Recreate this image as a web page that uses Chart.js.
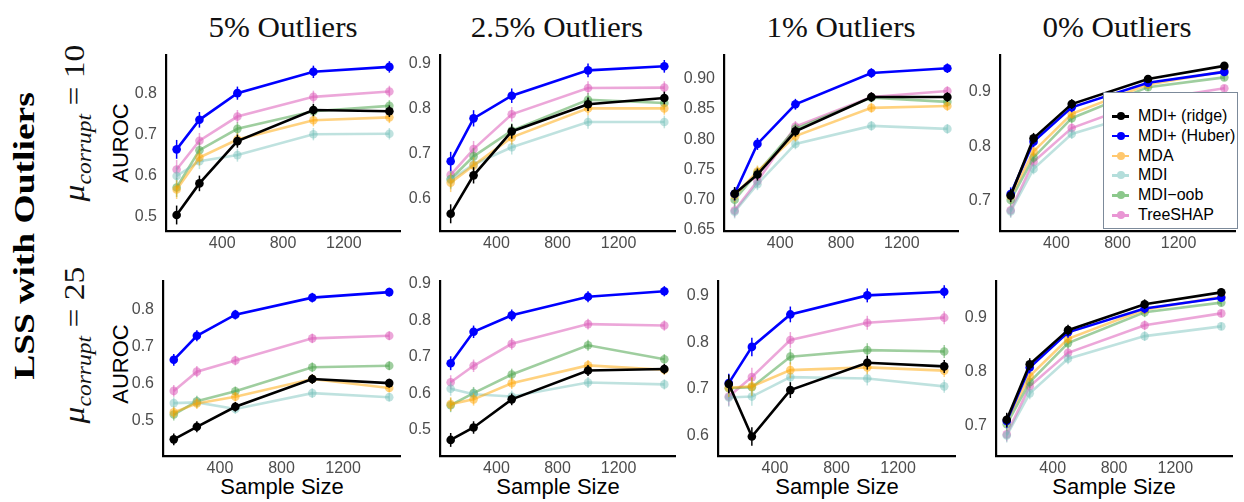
<!DOCTYPE html>
<html>
<head>
<meta charset="utf-8">
<script src="https://cdn.jsdelivr.net/npm/chart.js@4.4.1/dist/chart.umd.min.js"></script>
<style>
	body { margin: 0; background: #fff; }
	#fig { position: relative; width: 1244px; height: 502px; overflow: hidden; font-family: "Liberation Sans", Arial, sans-serif; }
	.box { position: absolute; }
	.txt { position: absolute; white-space: nowrap; transform: translate(-50%, -50%); }
	.rot { position: absolute; white-space: nowrap; transform: translate(-50%, -50%) rotate(-90deg); }
	.title { font-family: "Liberation Serif", serif; font-size: 29px; color: #111; transform: translate(-50%, -50%) scaleX(1.07); }
	.axt { font-size: 22px; color: #000; }
	.mu { font-family: "Liberation Serif", serif; font-size: 30px; color: #111; transform: translate(-50%, -50%) rotate(-90deg) scaleX(1.12); }
	.mu i sub { font-size: 21px; }
	#legend { position: absolute; left: 1103px; top: 92px; width: 133px; height: 135px; border: 1px solid #7c8a9a; background: #fff; }
	.item { position: absolute; left: 8px; height: 20px; display: flex; align-items: center; font-size: 16px; color: #000; }
	.key { position: relative; width: 17px; height: 20px; margin-right: 9px; }
	.key .ln { position: absolute; left: 0; right: 0; top: 9px; height: 2.5px; }
	.key .dt { position: absolute; left: 4.5px; top: 6px; width: 8px; height: 8px; border-radius: 50%; }
</style>
</head>
<body>
<div id="fig">
	<div class="txt title" style="left:283px; top:27px;">5% Outliers</div>
	<div class="txt title" style="left:557px; top:27px;">2.5% Outliers</div>
	<div class="txt title" style="left:841px; top:27px;">1% Outliers</div>
	<div class="txt title" style="left:1117px; top:27px;">0% Outliers</div>

	<div class="rot" style="left:24px; top:236px; font-family:'Liberation Serif',serif; font-weight:bold; font-size:30px; transform:translate(-50%,-50%) rotate(-90deg) scaleX(1.25);">LSS with Outliers</div>
	<div class="rot mu" style="left:77px; top:123px;"><i>μ<sub>corrupt</sub></i> = 10</div>
	<div class="rot mu" style="left:77px; top:345px;"><i>μ<sub>corrupt</sub></i> = 25</div>

	<div class="rot axt" style="left:121px; top:143px;">AUROC</div>
	<div class="rot axt" style="left:121px; top:364px;">AUROC</div>

	<div class="txt axt" style="left:282px; top:487px;">Sample Size</div>
	<div class="txt axt" style="left:558px; top:487px;">Sample Size</div>
	<div class="txt axt" style="left:837px; top:487px;">Sample Size</div>
	<div class="txt axt" style="left:1114px; top:487px;">Sample Size</div>
</div>

<script>
// sample sizes on the x axis
const sampleSizes = [100, 250, 500, 1000, 1500];
const xTicks = [400, 800, 1200];

const methods = ['MDI+ (ridge)', 'MDI+ (Huber)', 'MDA', 'MDI', 'MDI−oob', 'TreeSHAP'];
const lineColors = ['#000000', '#0000ff', 'rgba(255,165,0,0.5)', 'rgba(113,190,183,0.45)', 'rgba(80,165,80,0.55)', 'rgba(220,95,185,0.55)'];
const legendColors = ['#000000', '#0000ff', '#ffc86e', '#b4dedb', '#8cc88c', '#e996d4'];

// AUROC per method (order as in methods), mu_corrupt = 10
const auroc5_mu10 = [
	[0.505, 0.582, 0.685, 0.761, 0.758],
	[0.665, 0.737, 0.802, 0.854, 0.866],
	[0.567, 0.645, 0.689, 0.736, 0.743],
	[0.600, 0.636, 0.651, 0.702, 0.703],
	[0.572, 0.663, 0.715, 0.758, 0.771],
	[0.616, 0.686, 0.745, 0.793, 0.806]
];
const auroc25_mu10 = [
	[0.567, 0.652, 0.749, 0.809, 0.823],
	[0.683, 0.778, 0.828, 0.884, 0.893],
	[0.636, 0.674, 0.736, 0.800, 0.800],
	[0.642, 0.676, 0.714, 0.770, 0.770],
	[0.644, 0.694, 0.751, 0.819, 0.812],
	[0.653, 0.710, 0.787, 0.845, 0.846]
];
const auroc1_mu10 = [
	[0.709, 0.741, 0.813, 0.870, 0.870],
	[0.709, 0.792, 0.858, 0.910, 0.918],
	[0.706, 0.746, 0.805, 0.852, 0.855],
	[0.679, 0.725, 0.792, 0.822, 0.817],
	[0.699, 0.744, 0.817, 0.869, 0.862],
	[0.681, 0.730, 0.821, 0.870, 0.880]
];
const auroc0_mu10 = [
	[0.710, 0.815, 0.878, 0.924, 0.948],
	[0.713, 0.809, 0.872, 0.917, 0.937],
	[0.709, 0.791, 0.860, 0.914, 0.938],
	[0.681, 0.759, 0.823, 0.865, 0.883],
	[0.702, 0.780, 0.852, 0.909, 0.927],
	[0.683, 0.772, 0.834, 0.885, 0.907]
];
// mu_corrupt = 25
const auroc5_mu25 = [
	[0.450, 0.484, 0.538, 0.613, 0.602],
	[0.665, 0.730, 0.787, 0.833, 0.848],
	[0.523, 0.547, 0.565, 0.613, 0.589],
	[0.548, 0.550, 0.532, 0.575, 0.564],
	[0.517, 0.553, 0.580, 0.645, 0.649],
	[0.581, 0.633, 0.663, 0.723, 0.730]
];
const auroc25_mu25 = [
	[0.473, 0.507, 0.584, 0.663, 0.667],
	[0.683, 0.769, 0.814, 0.865, 0.880],
	[0.571, 0.584, 0.628, 0.677, 0.665],
	[0.613, 0.598, 0.592, 0.630, 0.625],
	[0.568, 0.601, 0.652, 0.732, 0.694],
	[0.631, 0.676, 0.736, 0.790, 0.786]
];
const auroc1_mu25 = [
	[0.710, 0.597, 0.697, 0.756, 0.748],
	[0.712, 0.790, 0.860, 0.901, 0.909],
	[0.702, 0.705, 0.740, 0.746, 0.739],
	[0.681, 0.683, 0.725, 0.722, 0.705],
	[0.701, 0.703, 0.769, 0.783, 0.780],
	[0.683, 0.725, 0.805, 0.842, 0.853]
];
const auroc0_mu25 = [
	[0.710, 0.813, 0.876, 0.924, 0.946],
	[0.708, 0.807, 0.872, 0.916, 0.936],
	[0.709, 0.791, 0.860, 0.914, 0.938],
	[0.681, 0.759, 0.823, 0.865, 0.883],
	[0.702, 0.780, 0.852, 0.909, 0.927],
	[0.683, 0.772, 0.834, 0.885, 0.907]
];

// half-width of the error bars, per sample size
const err5_mu10 = [0.023, 0.019, 0.016, 0.015, 0.014];
const err25_mu10 = [0.021, 0.018, 0.016, 0.015, 0.014];
const err1_mu10 = [0.011, 0.01, 0.009, 0.008, 0.008];
const err0_mu10 = [0.012, 0.01, 0.009, 0.007, 0.006];
const err5_mu25 = [0.016, 0.015, 0.013, 0.013, 0.012];
const err25_mu25 = [0.019, 0.017, 0.016, 0.015, 0.014];
const err1_mu25 = [0.02, 0.02, 0.017, 0.015, 0.014];
const err0_mu25 = [0.013, 0.011, 0.01, 0.009, 0.007];

// y tick labels
const yTicks5_mu10 = [0.5, 0.6, 0.7, 0.8];
const yTicks25_mu10 = [0.6, 0.7, 0.8, 0.9];
const yTicks1_mu10 = [0.65, 0.70, 0.75, 0.80, 0.85, 0.90];
const yTicks0 = [0.7, 0.8, 0.9];
const yTicks5_mu25 = [0.5, 0.6, 0.7, 0.8];
const yTicks25_mu25 = [0.5, 0.6, 0.7, 0.8, 0.9];
const yTicks1_mu25 = [0.6, 0.7, 0.8, 0.9];

// axis line x, right edge, top, bottom of each plot area
const panels = [
	{ vals: auroc5_mu10, err: err5_mu10, ticks: yTicks5_mu10, dec: 1, yMin: 0.466, yMax: 0.895, area: [166, 400, 55, 231] },
	{ vals: auroc25_mu10, err: err25_mu10, ticks: yTicks25_mu10, dec: 1, yMin: 0.529, yMax: 0.918, area: [440, 675, 55, 231] },
	{ vals: auroc1_mu10, err: err1_mu10, ticks: yTicks1_mu10, dec: 2, yMin: 0.647, yMax: 0.94, area: [724, 958, 55, 231] },
	{ vals: auroc0_mu10, err: err0_mu10, ticks: yTicks0, dec: 1, yMin: 0.645, yMax: 0.968, area: [1000, 1235, 55, 231] },
	{ vals: auroc5_mu25, err: err5_mu25, ticks: yTicks5_mu25, dec: 1, yMin: 0.405, yMax: 0.878, area: [163, 400, 281, 456] },
	{ vals: auroc25_mu25, err: err25_mu25, ticks: yTicks25_mu25, dec: 1, yMin: 0.429, yMax: 0.908, area: [440, 675, 281, 456] },
	{ vals: auroc1_mu25, err: err1_mu25, ticks: yTicks1_mu25, dec: 1, yMin: 0.555, yMax: 0.932, area: [718, 955, 281, 456] },
	{ vals: auroc0_mu25, err: err0_mu25, ticks: yTicks0, dec: 1, yMin: 0.643, yMax: 0.967, area: [996, 1232, 281, 456] }
];

const errorBars = {
	id: 'errorBars',
	afterDatasetDraw(chart, args) {
		const ds = chart.data.datasets[args.index];
		if (!ds.err) return;
		const ctx = chart.ctx, y = chart.scales.y;
		ctx.save();
		ctx.strokeStyle = ds.borderColor;
		ctx.lineWidth = 1.5;
		args.meta.data.forEach((pt, i) => {
			const v = ds.data[i].y, e = ds.err[i];
			ctx.beginPath();
			ctx.moveTo(pt.x, y.getPixelForValue(v - e));
			ctx.lineTo(pt.x, y.getPixelForValue(v + e));
			ctx.stroke();
		});
		ctx.restore();
	}
};

const fig = document.getElementById('fig');
const YW = 48, XH = 28, PT = 26, PR = 6;
const tickFont = { family: '"Liberation Sans", Arial, sans-serif', size: 16 };

panels.forEach(p => {
	const [ax, right, top, bottom] = p.area;
	const box = document.createElement('div');
	box.className = 'box';
	box.style.cssText = `left:${ax - YW}px; top:${top - PT}px; width:${right - ax + YW + PR}px; height:${bottom - top + PT + XH}px;`;
	const canvas = document.createElement('canvas');
	box.appendChild(canvas);
	fig.appendChild(box);

	new Chart(canvas, {
		type: 'line',
		data: {
			datasets: p.vals.map((vals, k) => ({
				label: methods[k],
				data: sampleSizes.map((x, i) => ({ x, y: vals[i] })),
				err: p.err,
				borderColor: lineColors[k],
				backgroundColor: lineColors[k],
				borderWidth: 2.6,
				pointRadius: 4.3,
				pointBorderWidth: 0,
				fill: false,
				tension: 0
			}))
		},
		options: {
			responsive: true,
			maintainAspectRatio: false,
			animation: false,
			layout: { padding: { left: 0, top: PT, right: PR, bottom: 0 } },
			plugins: { legend: { display: false }, tooltip: { enabled: false } },
			scales: {
				x: {
					type: 'linear', min: 30, max: 1570,
					grid: { display: false, drawTicks: false },
					border: { display: true, color: '#000', width: 2.2 },
					afterBuildTicks: s => { s.ticks = xTicks.map(v => ({ value: v })); },
					afterFit: s => { s.height = XH; },
					ticks: { font: tickFont, color: '#4d4d4d', padding: 3, maxRotation: 0, callback: v => String(v) }
				},
				y: {
					min: p.yMin, max: p.yMax,
					grid: { display: false, drawTicks: false },
					border: { display: true, color: '#000', width: 2.2 },
					afterBuildTicks: s => { s.ticks = p.ticks.map(v => ({ value: v })); },
					afterFit: s => { s.width = YW; },
					ticks: { font: tickFont, color: '#4d4d4d', padding: 9, callback: v => v.toFixed(p.dec) }
				}
			}
		},
		plugins: [errorBars]
	});
});

// legend inside the 0% / mu=10 panel
const legend = document.createElement('div');
legend.id = 'legend';
methods.forEach((m, k) => {
	const row = document.createElement('div');
	row.className = 'item';
	row.style.top = (13 + k * 19.8) + 'px';
	row.innerHTML = `<div class="key"><div class="ln" style="background:${legendColors[k]}"></div><div class="dt" style="background:${legendColors[k]}"></div></div><span>${m}</span>`;
	legend.appendChild(row);
});
fig.appendChild(legend);
</script>
</body>
</html>
